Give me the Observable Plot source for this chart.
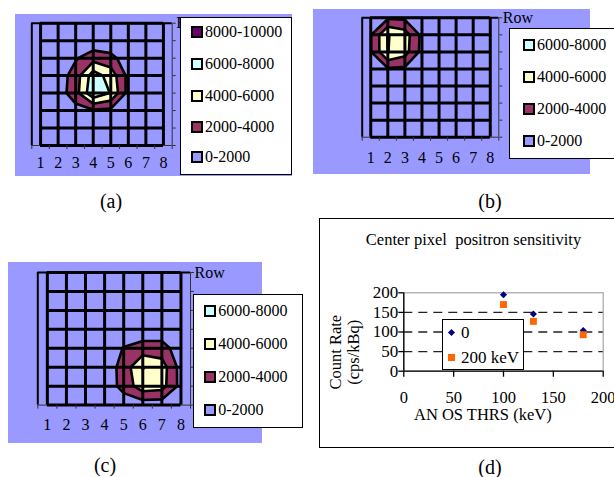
<!DOCTYPE html>
<html>
<head>
<meta charset="utf-8">
<script src="https://cdn.jsdelivr.net/npm/d3@7"></script>
<script src="https://cdn.jsdelivr.net/npm/@observablehq/plot@0.6"></script>
<style>
  html, body { margin: 0; padding: 0; background: #fff; }
  #fig { position: relative; width: 614px; height: 477px; overflow: hidden; background: #fff;
         font-family: "Liberation Serif", "Times New Roman", serif; color: #000; }
  #fig svg { position: absolute; overflow: visible; }
  .legend { position: absolute; background: #fff; border: 1.5px solid #000; box-sizing: border-box; }
  .sw { position: absolute; width: 12px; height: 12px; box-sizing: border-box; border: 2px solid #000; }
  .lt { position: absolute; font-size: 16px; line-height: 18px; white-space: nowrap; }
  .cap { position: absolute; width: 60px; text-align: center; font-size: 20px; line-height: 24px; }
  .frameD { position: absolute; border: 1.5px solid #000; box-sizing: border-box; }
</style>
</head>
<body>
<div id="fig"></div>
<script>
// ---------------- data ----------------
const cols = [1, 2, 3, 4, 5, 6, 7, 8];
const rows = [1, 2, 3, 4, 5, 6, 7, 8];
const bandLabels = ["0-2000", "2000-4000", "4000-6000", "6000-8000", "8000-10000"];
const bandThresholds = [2000, 4000, 6000, 8000];
const bandColors = ["#9999ff", "#993366", "#ffffcc", "#ccffff", "#660066"];

// 8x8 count grids, rows listed top to bottom, columns 1..8
const gridA = [
  200, 300, 300, 400, 400, 300, 300, 200,
  300, 300, 400, 500, 500, 400, 300, 200,
  300, 700, 1800, 3200, 2600, 900, 400, 300,
  400, 800, 3000, 7000, 5200, 1400, 500, 300,
  400, 900, 3200, 7600, 5900, 1300, 500, 300,
  300, 600, 1200, 1700, 1500, 800, 400, 300,
  300, 400, 500, 600, 600, 500, 300, 200,
  200, 300, 300, 400, 400, 300, 200, 200
];
const gridB = [
  900, 1700, 1600, 800, 300, 200, 200, 200,
  1900, 6100, 5000, 1500, 400, 300, 200, 200,
  1900, 6050, 4800, 1400, 400, 300, 200, 200,
  1000, 1800, 1600, 900, 300, 200, 200, 200,
  400, 500, 500, 400, 300, 200, 200, 200,
  300, 300, 300, 300, 200, 200, 200, 200,
  200, 200, 200, 200, 200, 200, 200, 200,
  200, 200, 200, 200, 200, 200, 200, 200
];
const gridC = [
  200, 200, 200, 200, 200, 200, 200, 200,
  200, 200, 200, 200, 300, 300, 300, 200,
  200, 200, 300, 300, 300, 400, 400, 300,
  200, 200, 300, 400, 600, 700, 700, 500,
  200, 300, 400, 500, 2100, 2800, 2800, 900,
  200, 300, 400, 700, 2800, 6100, 5000, 1200,
  200, 300, 400, 700, 2700, 5200, 4800, 1300,
  200, 200, 300, 400, 800, 800, 800, 600
];

// panel (d)
const thrsKeV = [100, 130, 180];
const rateThr0 = [195, 146, 104];
const rateThr200 = [170, 127, 93];
const seriesNames = ["0", "200 keV"];
const ticksD = [0, 50, 100, 150, 200];
const titleD = "Center pixel  positron sensitivity";
const xLabelD = "AN OS THRS (keV)";
const yLabelD = "Count Rate\n(cps/kBq)";
const captions = ["(a)", "(b)", "(c)", "(d)"];

// ---------------- layout helpers ----------------
const fig = document.getElementById("fig");
const FONT = '"Liberation Serif", "Times New Roman", serif';

function put(el, left, top) {
  el.style.left = left + "px";
  el.style.top = top + "px";
  fig.appendChild(el);
  return el;
}

function contourPanel(grid, L) {
  const xMin = cols[0] - 0.5, xMax = cols[cols.length - 1] + 0.5;
  const yMin = rows[0] - 0.5, yMax = rows[rows.length - 1] + 0.5;
  const colEdges = cols.map(c => c - 0.5).concat([xMax]);
  const svg = Plot.plot({
    width: L.w, height: L.h,
    marginLeft: L.mL, marginRight: L.mR, marginTop: L.mT, marginBottom: L.mB,
    style: {background: "#9999ff", fontFamily: FONT, fontSize: "16px", color: "#000"},
    x: {domain: [xMin, xMax]},
    y: {domain: [rows[0], rows[rows.length - 1]], reverse: true},
    color: {type: "ordinal", domain: bandThresholds, range: bandColors.slice(1)},
    marks: [
      Plot.contour(grid, {
        width: cols.length, height: rows.length,
        x1: xMin, x2: xMax, y1: yMin, y2: yMax,
        fill: Plot.identity, thresholds: bandThresholds,
        stroke: "#000", strokeWidth: 2.6, strokeLinejoin: "round", clip: true
      }),
      Plot.ruleY([rows[rows.length - 1]], {x1: xMin, x2: xMax, stroke: "#333", strokeWidth: 1}),
      Plot.ruleX([xMax], {stroke: "#333", strokeWidth: 1}),
      Plot.ruleX(cols, {stroke: "#000", strokeWidth: 3}),
      Plot.ruleY(rows, {x1: cols[0], x2: cols[cols.length - 1], stroke: "#000", strokeWidth: 3}),
      Plot.ruleY([rows[0]], {x1: xMin, x2: xMax, stroke: "#000", strokeWidth: 2}),
      Plot.ruleX([xMin], {stroke: "#000", strokeWidth: 2}),
      Plot.axisX(colEdges, {tickSize: 4, tickFormat: () => "", label: null, stroke: "#333"}),
      Plot.axisX(cols, {tickSize: 0, tickPadding: L.pad, label: null, fontSize: 16}),
      Plot.axisY(rows, {anchor: "right", tickSize: 3, tickFormat: () => "", label: null, stroke: "#333"}),
      Plot.text(["Row"], {frameAnchor: "top-right", textAnchor: "start", lineAnchor: "middle", dx: 4, fontSize: 16})
    ]
  });
  put(svg, L.left, L.top);
}

function bandLegend(n, box, swX, txX, ys) {
  const div = document.createElement("div");
  div.className = "legend";
  Object.assign(div.style, {left: box[0] + "px", top: box[1] + "px", width: box[2] + "px", height: box[3] + "px"});
  for (let k = 0; k < n; k++) {
    const i = n - 1 - k; // highest band first
    const sw = document.createElement("span");
    sw.className = "sw";
    sw.style.background = bandColors[i];
    sw.style.left = swX + "px";
    sw.style.top = (ys[k] - 6) + "px";
    const tx = document.createElement("span");
    tx.className = "lt";
    tx.textContent = bandLabels[i];
    tx.style.left = txX + "px";
    tx.style.top = (ys[k] - 9) + "px";
    div.append(sw, tx);
  }
  fig.appendChild(div);
}

// ---------------- panels (a), (b), (c) ----------------
contourPanel(gridA, {left: 15, top: 14, w: 277, h: 162, mL: 16.3, mR: 120.3, mT: 8.7, mB: 31, pad: 11});
bandLegend(5, [180, 17, 112, 158], 10, 24, [14, 46, 78, 109, 139]);

contourPanel(gridB, {left: 313, top: 9, w: 277, h: 165, mL: 48.7, mR: 91.7, mT: 8.3, mB: 37.3, pad: 14});
bandLegend(4, [509, 28, 108, 131], 12.5, 27, [15.5, 48, 79.5, 112]);

contourPanel(gridC, {left: 8, top: 261.7, w: 254, h: 181, mL: 29.3, mR: 72, mT: 10, mB: 38.4, pad: 13.5});
bandLegend(4, [192.7, 294.3, 110, 134], 10, 24.5, [16, 48.5, 82, 115]);

// ---------------- panel (d) ----------------
const frameD = document.createElement("div");
frameD.className = "frameD";
Object.assign(frameD.style, {width: "302px", height: "229.5px"});
put(frameD, 319, 218);

const dataD = thrsKeV.map((t, i) => ({thr: t, a: rateThr0[i], b: rateThr200[i]}));
const svgD = Plot.plot({
  width: 294, height: 228,
  marginLeft: 83.3, marginRight: 11.3, marginTop: 73.3, marginBottom: 76.3,
  style: {background: "transparent", fontFamily: FONT, fontSize: "16.5px", color: "#000"},
  x: {domain: [ticksD[0], ticksD[ticksD.length - 1]]},
  y: {domain: [ticksD[0], ticksD[ticksD.length - 1]]},
  marks: [
    Plot.frame({stroke: "#a6a6a6", strokeWidth: 1.2}),
    Plot.ruleY(ticksD.filter((t, i) => i > 0 && i < ticksD.length - 1), {stroke: "#222", strokeWidth: 1.3, strokeDasharray: "9,6"}),
    Plot.ruleX([ticksD[0]], {stroke: "#000", strokeWidth: 1.3}),
    Plot.ruleY([ticksD[0]], {stroke: "#000", strokeWidth: 1.3}),
    Plot.axisX(ticksD, {tickSize: 6, tickPadding: 14, label: null, strokeWidth: 1.3}),
    Plot.axisY(ticksD, {tickSize: 5, tickPadding: 0.5, label: null, strokeWidth: 1.3, fontSize: 17}),
    Plot.dot(dataD, {x: "thr", y: "a", symbol: d3.symbolDiamond2, r: 3.2, fill: "#000080", stroke: "none"}),
    Plot.dot(dataD, {x: "thr", y: "b", symbol: d3.symbolSquare, r: 3.9, fill: "#ff6600", stroke: "none"}),
    Plot.text([titleD], {frameAnchor: "top", textAnchor: "middle", lineAnchor: "middle", dx: -30, dy: -53.3, fontSize: 16.5}),
    Plot.text([xLabelD], {frameAnchor: "bottom", textAnchor: "middle", lineAnchor: "middle", dx: -20.7, dy: 43.5, fontSize: 16.5}),
    Plot.text([yLabelD], {frameAnchor: "left", textAnchor: "middle", lineAnchor: "middle", rotate: -90, dx: -59.4, dy: 20.2, lineHeight: 1.08, fontSize: 16.5})
  ]
});
put(svgD, 320, 219);

// legend of (d)
const legD = document.createElement("div");
legD.className = "legend";
Object.assign(legD.style, {left: "441.5px", top: "319.3px", width: "82px", height: "50.5px"});
const markD = [
  {bg: "#000080", w: 5, rot: 45},
  {bg: "#ff6600", w: 7, rot: 0}
];
const legYs = [12.3, 37.3];
seriesNames.forEach((name, i) => {
  const m = document.createElement("span");
  Object.assign(m.style, {position: "absolute", width: markD[i].w + "px", height: markD[i].w + "px",
    background: markD[i].bg, transform: `rotate(${markD[i].rot}deg)`,
    left: (9 - markD[i].w / 2) + "px", top: (legYs[i] - markD[i].w / 2) + "px"});
  const t = document.createElement("span");
  t.className = "lt";
  t.style.fontSize = "17px";
  t.textContent = name;
  t.style.left = "18.5px";
  t.style.top = (legYs[i] - 9) + "px";
  legD.append(m, t);
});
fig.appendChild(legD);

// ---------------- captions ----------------
const capPos = [[111, 201], [490, 201], [105, 465], [490, 467]];
captions.forEach((c, i) => {
  const d = document.createElement("div");
  d.className = "cap";
  d.textContent = c;
  put(d, capPos[i][0] - 30, capPos[i][1] - 12);
});
</script>
</body>
</html>
